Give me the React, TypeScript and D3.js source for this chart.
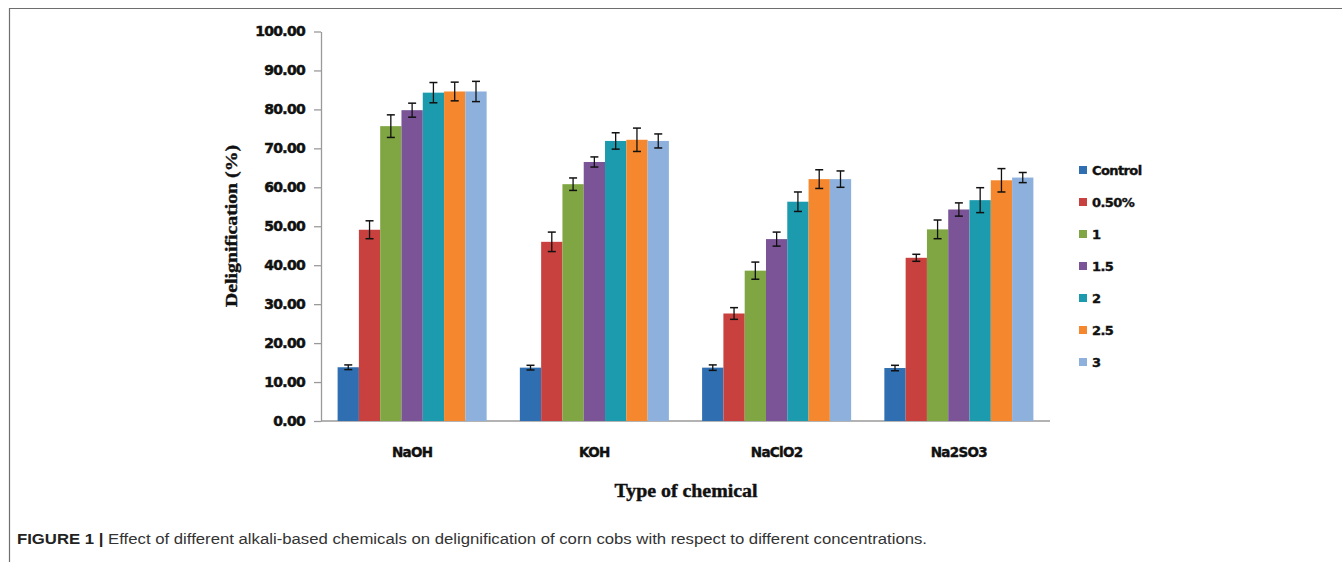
import { useRef, useEffect } from 'react';
import * as d3 from 'd3';

// categories on the x axis
const categories = ['NaOH', 'KOH', 'NaClO2', 'Na2SO3'];
// concentration series (legend order)
const seriesNames = ['Control', '0.50%', '1', '1.5', '2', '2.5', '3'];
const seriesColors = ['#2F6EB0', '#C8413F', '#80A643', '#7A5496', '#1D9BAE', '#F5882E', '#8DB1DC'];

// delignification (%) per category, one array per series
const controlValues = [13.8, 13.7, 13.7, 13.6];
const c050Values = [49.1, 46.0, 27.6, 41.9];
const c1Values = [75.7, 60.8, 38.6, 49.2];
const c15Values = [79.8, 66.5, 46.7, 54.3];
const c2Values = [84.3, 71.9, 56.3, 56.7];
const c25Values = [84.6, 72.2, 62.1, 61.8];
const c3Values = [84.6, 71.9, 62.1, 62.5];

// error bar half widths
const controlErr = [0.6, 0.6, 0.7, 0.7];
const c050Err = [2.3, 2.5, 1.5, 0.9];
const c1Err = [2.9, 1.6, 2.2, 2.4];
const c15Err = [1.8, 1.3, 1.8, 1.7];
const c2Err = [2.6, 2.1, 2.5, 3.2];
const c25Err = [2.4, 3.0, 2.4, 3.0];
const c3Err = [2.6, 1.8, 2.1, 1.3];

const yTicks = [0, 10, 20, 30, 40, 50, 60, 70, 80, 90, 100];

const allValues = [controlValues, c050Values, c1Values, c15Values, c2Values, c25Values, c3Values];
const allErrors = [controlErr, c050Err, c1Err, c15Err, c2Err, c25Err, c3Err];

export default function App() {
    const svgRef = useRef<SVGSVGElement>(null);

    useEffect(() => {
        const svg = d3.select(svgRef.current);
        svg.selectAll('*').remove();

        const W = 1342, H = 562;
        const left = 321, right = 1050, top = 31.5, bottom = 421;

        // frame lines (top and left)
        svg.append('line').attr('x1', 9).attr('x2', W).attr('y1', 8.5).attr('y2', 8.5)
            .attr('stroke', '#6e6e6e').attr('stroke-width', 1.2);
        svg.append('line').attr('x1', 9.5).attr('x2', 9.5).attr('y1', 8).attr('y2', H)
            .attr('stroke', '#6e6e6e').attr('stroke-width', 1.2);

        const x0 = d3.scaleBand().domain(categories).range([left, right]).padding(0);
        const x1 = d3.scaleBand().domain(seriesNames).range([0, x0.bandwidth()])
            .paddingInner(0).paddingOuter(0.78);
        const y = d3.scaleLinear().domain([0, 100]).range([bottom, top]);

        // y axis
        const yAxis = d3.axisLeft(y)
            .tickValues(yTicks)
            .tickSize(7)
            .tickSizeOuter(0)
            .tickPadding(9)
            .tickFormat(d => (+d).toFixed(2));
        const ya = svg.append('g').attr('transform', `translate(${left},0)`).call(yAxis);
        ya.select('.domain').attr('stroke', '#9a9a9a').attr('stroke-width', 1.3);
        ya.selectAll('.tick line').attr('stroke', '#9a9a9a').attr('stroke-width', 1.3);
        ya.selectAll('.tick text')
            .attr('fill', '#111')
            .attr('stroke', '#111')
            .attr('stroke-width', 0.5)
            .style('font-family', 'DejaVu Sans')
            .style('font-weight', 'bold')
            .style('font-size', '14px')
            .style('letter-spacing', '-0.7px');

        // x axis line
        svg.append('line').attr('x1', left).attr('x2', right).attr('y1', bottom).attr('y2', bottom)
            .attr('stroke', '#9a9a9a').attr('stroke-width', 1.3);

        // bars
        const groups = svg.selectAll('.grp')
            .data(categories)
            .enter()
            .append('g')
            .attr('class', 'grp')
            .attr('transform', d => `translate(${x0(d)},0)`);

        seriesNames.forEach((s, si) => {
            groups.append('rect')
                .attr('x', x1(s)!)
                .attr('y', (_d, ci) => y(allValues[si][ci]))
                .attr('width', x1.bandwidth())
                .attr('height', (_d, ci) => bottom - y(allValues[si][ci]))
                .attr('fill', seriesColors[si]);
        });

        // error bars
        seriesNames.forEach((s, si) => {
            const cx = x1(s)! + x1.bandwidth() / 2;
            groups.each(function (_d, ci) {
                const g = d3.select(this);
                const v = allValues[si][ci];
                const e = allErrors[si][ci];
                const yHi = y(v + e), yLo = y(v - e);
                g.append('line').attr('x1', cx).attr('x2', cx).attr('y1', yHi).attr('y2', yLo)
                    .attr('stroke', '#111').attr('stroke-width', 1.3);
                g.append('line').attr('x1', cx - 4).attr('x2', cx + 4).attr('y1', yHi).attr('y2', yHi)
                    .attr('stroke', '#111').attr('stroke-width', 1.5);
                g.append('line').attr('x1', cx - 4).attr('x2', cx + 4).attr('y1', yLo).attr('y2', yLo)
                    .attr('stroke', '#111').attr('stroke-width', 1.5);
            });
        });

        // category labels
        svg.selectAll('.cat')
            .data(categories)
            .enter()
            .append('text')
            .attr('class', 'cat')
            .attr('x', d => x0(d)! + x0.bandwidth() / 2)
            .attr('y', 457)
            .attr('text-anchor', 'middle')
            .attr('fill', '#111')
            .attr('stroke', '#111')
            .attr('stroke-width', 0.4)
            .style('font-family', 'DejaVu Sans')
            .style('font-weight', 'bold')
            .style('font-size', '13.5px')
            .style('letter-spacing', '-0.7px')
            .text(d => d);

        // axis titles
        svg.append('text')
            .attr('x', 686)
            .attr('y', 497)
            .attr('text-anchor', 'middle')
            .attr('fill', '#111')
            .attr('stroke', '#111')
            .attr('stroke-width', 0.4)
            .attr('textLength', 143)
            .attr('lengthAdjust', 'spacingAndGlyphs')
            .style('font-family', 'Liberation Serif')
            .style('font-weight', 'bold')
            .style('font-size', '18px')
            .text('Type of chemical');

        svg.append('text')
            .attr('transform', 'translate(237,226) rotate(-90)')
            .attr('text-anchor', 'middle')
            .attr('fill', '#111')
            .attr('stroke', '#111')
            .attr('stroke-width', 0.4)
            .attr('textLength', 162)
            .attr('lengthAdjust', 'spacingAndGlyphs')
            .style('font-family', 'Liberation Serif')
            .style('font-weight', 'bold')
            .style('font-size', '17px')
            .text('Delignification (%)');

        // legend
        const legend = svg.append('g').attr('transform', 'translate(1079,166)');
        seriesNames.forEach((s, i) => {
            legend.append('rect')
                .attr('x', 0)
                .attr('y', i * 32)
                .attr('width', 8)
                .attr('height', 8)
                .attr('fill', seriesColors[i]);
            legend.append('text')
                .attr('x', 13)
                .attr('y', i * 32 + 9)
                .attr('fill', '#111')
                .attr('stroke', '#111')
                .attr('stroke-width', 0.4)
                .style('font-family', 'DejaVu Sans')
                .style('font-weight', 'bold')
                .style('font-size', '13px')
                .style('letter-spacing', '-0.6px')
                .text(s);
        });

        // caption
        const cap = svg.append('text')
            .attr('x', 17)
            .attr('y', 544)
            .attr('textLength', 910)
            .attr('lengthAdjust', 'spacingAndGlyphs')
            .style('font-family', 'Liberation Sans')
            .style('font-size', '15.5px');
        cap.append('tspan')
            .attr('fill', '#222')
            .style('font-weight', 'bold')
            .text('FIGURE 1 | ');
        cap.append('tspan')
            .attr('fill', '#333')
            .text('Effect of different alkali-based chemicals on delignification of corn cobs with respect to different concentrations.');
    }, []);

    return (
        <svg
            ref={svgRef}
            width={1342}
            height={562}
            style={{ position: 'absolute', left: 0, top: 0, background: '#fff' }}
        />
    );
}
